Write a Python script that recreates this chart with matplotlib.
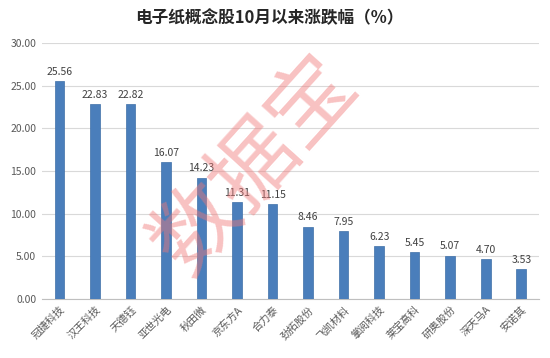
import matplotlib.pyplot as plt

plt.rcParams['font.family'] = ['Noto Sans CJK SC', 'DejaVu Sans']

# stocks and their change since October (%)
names = ["冠捷科技", "汉王科技", "天德钰", "亚世光电", "秋田微", "京东方A", "合力泰",
         "劲拓股份", "飞凯材料", "掌阅科技", "莱宝高科", "研奥股份", "深天马A", "安诺其"]
changes = [25.56, 22.83, 22.82, 16.07, 14.23, 11.31, 11.15,
           8.46, 7.95, 6.23, 5.45, 5.07, 4.70, 3.53]
yticks = [0, 5, 10, 15, 20, 25, 30]


def plot_chart():

    fig = plt.figure(figsize=(5.5, 3.58), dpi=100)
    ax = fig.add_axes([0.076, 0.165, 0.904, 0.715])

    x = range(len(names))
    ax.bar(x, changes, width=0.27, color="#4a7ebb", edgecolor="#3f6fa8",
           linewidth=0.5, zorder=3)

    # value labels above bars
    for i, v in zip(x, changes):
        ax.text(i, v + 0.5, f"{v:.2f}", ha="center", va="bottom",
                fontsize=7.5, color="#404040", zorder=4)

    ax.set_ylim(0, 30)
    ax.set_xlim(-0.5, len(names) - 0.5)
    ax.set_yticks(yticks)
    ax.set_yticklabels([f"{t:.2f}" for t in yticks], fontsize=7.5, color="#595959")
    ax.set_xticks(list(x))
    ax.set_xticklabels(names, rotation=45, ha="right", rotation_mode="anchor",
                       fontsize=7.5, color="#595959")
    ax.tick_params(length=0, pad=4)
    ax.grid(axis="y", color="#d9d9d9", linewidth=0.8, zorder=0)
    for side in ["left", "right", "top"]:
        ax.spines[side].set_visible(False)
    ax.spines["bottom"].set_color("#bfbfbf")

    fig.suptitle("电子纸概念股10月以来涨跌幅（%）", x=0.49, y=0.975,
                 fontsize=12, fontweight="bold", color="#262626")

    # watermark
    fig.text(0.465, 0.54, "数据宝", fontsize=62, color="#f07878", alpha=0.45,
             rotation=48, ha="center", va="center", zorder=10)

    fig.savefig("out.png", dpi=100)


if __name__ == "__main__":
    plot_chart()
